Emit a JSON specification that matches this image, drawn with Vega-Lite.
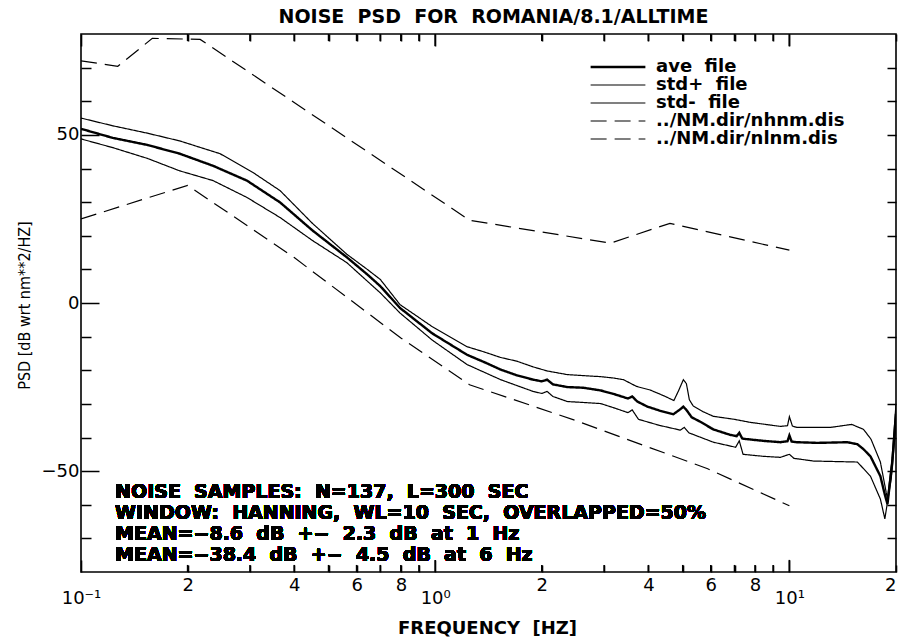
{
  "$schema": "https://vega.github.io/schema/vega-lite/v6.json",
  "autosize": "none",
  "width": 815,
  "height": 538,
  "padding": {"left": 81, "top": 34, "right": 2, "bottom": 66},
  "background": "white",
  "title": {"text": "NOISE\u00a0 PSD\u00a0 FOR\u00a0 ROMANIA/8.1/ALLTIME", "font": "DejaVu Sans", "fontSize": 19, "fontWeight": "bold", "color": "black", "offset": 6, "anchor": "middle", "dx": 5},
  "config": {
    "view": {"stroke": "black", "strokeWidth": 1.6},
    "font": "DejaVu Sans",
    "axis": {"domain": false, "grid": false, "labelColor": "black", "titleColor": "black", "labelFont": "DejaVu Sans", "titleFont": "DejaVu Sans"}
  },
  "data": {"values": [
    {"s": "ave file", "f": 0.1, "db": 51.8},
    {"s": "ave file", "f": 0.123, "db": 49.1},
    {"s": "ave file", "f": 0.154, "db": 47.0},
    {"s": "ave file", "f": 0.19, "db": 44.4},
    {"s": "ave file", "f": 0.236, "db": 40.8},
    {"s": "ave file", "f": 0.294, "db": 36.4},
    {"s": "ave file", "f": 0.365, "db": 29.9},
    {"s": "ave file", "f": 0.45, "db": 21.6},
    {"s": "ave file", "f": 0.563, "db": 13.6},
    {"s": "ave file", "f": 0.643, "db": 8.5},
    {"s": "ave file", "f": 0.7, "db": 5.0},
    {"s": "ave file", "f": 0.796, "db": -1.5},
    {"s": "ave file", "f": 0.98, "db": -9.0},
    {"s": "ave file", "f": 1.23, "db": -15.4},
    {"s": "ave file", "f": 1.37, "db": -17.5},
    {"s": "ave file", "f": 1.53, "db": -19.8},
    {"s": "ave file", "f": 1.7, "db": -21.5},
    {"s": "ave file", "f": 1.89, "db": -22.8},
    {"s": "ave file", "f": 2.0, "db": -23.3},
    {"s": "ave file", "f": 2.07, "db": -22.8},
    {"s": "ave file", "f": 2.15, "db": -24.2},
    {"s": "ave file", "f": 2.36, "db": -25.0},
    {"s": "ave file", "f": 2.62, "db": -25.2},
    {"s": "ave file", "f": 2.93, "db": -26.0},
    {"s": "ave file", "f": 3.18, "db": -27.0},
    {"s": "ave file", "f": 3.5, "db": -28.4},
    {"s": "ave file", "f": 3.6, "db": -27.8},
    {"s": "ave file", "f": 3.72, "db": -29.3},
    {"s": "ave file", "f": 3.97, "db": -30.8},
    {"s": "ave file", "f": 4.3, "db": -32.0},
    {"s": "ave file", "f": 4.7, "db": -33.1},
    {"s": "ave file", "f": 4.92, "db": -31.6},
    {"s": "ave file", "f": 5.02, "db": -30.8},
    {"s": "ave file", "f": 5.12, "db": -31.8},
    {"s": "ave file", "f": 5.3, "db": -34.0},
    {"s": "ave file", "f": 5.6, "db": -35.3},
    {"s": "ave file", "f": 6.1, "db": -37.6},
    {"s": "ave file", "f": 6.8, "db": -39.2},
    {"s": "ave file", "f": 7.1, "db": -39.6},
    {"s": "ave file", "f": 7.22, "db": -38.6},
    {"s": "ave file", "f": 7.36, "db": -40.3},
    {"s": "ave file", "f": 7.61, "db": -40.5},
    {"s": "ave file", "f": 8.45, "db": -41.0},
    {"s": "ave file", "f": 9.43, "db": -41.4},
    {"s": "ave file", "f": 9.88, "db": -41.1},
    {"s": "ave file", "f": 10.0, "db": -39.4},
    {"s": "ave file", "f": 10.15, "db": -41.2},
    {"s": "ave file", "f": 10.5, "db": -41.4},
    {"s": "ave file", "f": 12.0, "db": -41.6},
    {"s": "ave file", "f": 14.58, "db": -41.4},
    {"s": "ave file", "f": 15.56, "db": -42.0},
    {"s": "ave file", "f": 16.2, "db": -43.5},
    {"s": "ave file", "f": 16.94, "db": -45.6},
    {"s": "ave file", "f": 18.07, "db": -51.5},
    {"s": "ave file", "f": 18.6, "db": -57.0},
    {"s": "ave file", "f": 18.92, "db": -59.8},
    {"s": "ave file", "f": 19.5, "db": -48.0},
    {"s": "ave file", "f": 20.0, "db": -33.0},
    {"s": "std+ file", "f": 0.1, "db": 55.0},
    {"s": "std+ file", "f": 0.123, "db": 52.7},
    {"s": "std+ file", "f": 0.154, "db": 50.5},
    {"s": "std+ file", "f": 0.19, "db": 48.2},
    {"s": "std+ file", "f": 0.247, "db": 44.4},
    {"s": "std+ file", "f": 0.306, "db": 38.8},
    {"s": "std+ file", "f": 0.365, "db": 33.4},
    {"s": "std+ file", "f": 0.45, "db": 23.7},
    {"s": "std+ file", "f": 0.563, "db": 14.5},
    {"s": "std+ file", "f": 0.643, "db": 10.0},
    {"s": "std+ file", "f": 0.7, "db": 7.0},
    {"s": "std+ file", "f": 0.796, "db": -0.5},
    {"s": "std+ file", "f": 0.98, "db": -7.0},
    {"s": "std+ file", "f": 1.23, "db": -13.0},
    {"s": "std+ file", "f": 1.37, "db": -14.5},
    {"s": "std+ file", "f": 1.53, "db": -16.2},
    {"s": "std+ file", "f": 1.7, "db": -17.3},
    {"s": "std+ file", "f": 1.89, "db": -19.0},
    {"s": "std+ file", "f": 2.07, "db": -20.2},
    {"s": "std+ file", "f": 2.36, "db": -21.3},
    {"s": "std+ file", "f": 2.62, "db": -21.6},
    {"s": "std+ file", "f": 2.93, "db": -21.9},
    {"s": "std+ file", "f": 3.18, "db": -22.3},
    {"s": "std+ file", "f": 3.4, "db": -22.8},
    {"s": "std+ file", "f": 3.7, "db": -24.8},
    {"s": "std+ file", "f": 4.05, "db": -25.9},
    {"s": "std+ file", "f": 4.4, "db": -27.5},
    {"s": "std+ file", "f": 4.72, "db": -29.0},
    {"s": "std+ file", "f": 4.87, "db": -26.0},
    {"s": "std+ file", "f": 5.02, "db": -22.8},
    {"s": "std+ file", "f": 5.12, "db": -24.0},
    {"s": "std+ file", "f": 5.22, "db": -28.8},
    {"s": "std+ file", "f": 5.35, "db": -30.6},
    {"s": "std+ file", "f": 5.7, "db": -32.3},
    {"s": "std+ file", "f": 6.1, "db": -33.7},
    {"s": "std+ file", "f": 7.0, "db": -34.6},
    {"s": "std+ file", "f": 7.76, "db": -35.5},
    {"s": "std+ file", "f": 9.43, "db": -36.7},
    {"s": "std+ file", "f": 9.88, "db": -36.5},
    {"s": "std+ file", "f": 10.0, "db": -33.8},
    {"s": "std+ file", "f": 10.2, "db": -36.6},
    {"s": "std+ file", "f": 10.5, "db": -37.0},
    {"s": "std+ file", "f": 13.06, "db": -37.0},
    {"s": "std+ file", "f": 15.0, "db": -36.1},
    {"s": "std+ file", "f": 16.2, "db": -37.6},
    {"s": "std+ file", "f": 17.0, "db": -40.5},
    {"s": "std+ file", "f": 18.07, "db": -47.3},
    {"s": "std+ file", "f": 18.92, "db": -58.3},
    {"s": "std+ file", "f": 19.5, "db": -46.0},
    {"s": "std+ file", "f": 20.0, "db": -30.0},
    {"s": "std- file", "f": 0.1, "db": 48.8},
    {"s": "std- file", "f": 0.123, "db": 46.2},
    {"s": "std- file", "f": 0.154, "db": 43.0},
    {"s": "std- file", "f": 0.19, "db": 39.3},
    {"s": "std- file", "f": 0.236, "db": 36.4},
    {"s": "std- file", "f": 0.294, "db": 31.4},
    {"s": "std- file", "f": 0.365, "db": 25.4},
    {"s": "std- file", "f": 0.45, "db": 18.6},
    {"s": "std- file", "f": 0.563, "db": 12.0},
    {"s": "std- file", "f": 0.7, "db": 3.0},
    {"s": "std- file", "f": 0.796, "db": -3.0},
    {"s": "std- file", "f": 0.98, "db": -11.0},
    {"s": "std- file", "f": 1.23, "db": -18.3},
    {"s": "std- file", "f": 1.53, "db": -22.8},
    {"s": "std- file", "f": 1.89, "db": -26.3},
    {"s": "std- file", "f": 2.0, "db": -26.9},
    {"s": "std- file", "f": 2.07, "db": -26.3},
    {"s": "std- file", "f": 2.15, "db": -27.8},
    {"s": "std- file", "f": 2.36, "db": -29.3},
    {"s": "std- file", "f": 2.93, "db": -29.9},
    {"s": "std- file", "f": 3.18, "db": -31.1},
    {"s": "std- file", "f": 3.5, "db": -32.6},
    {"s": "std- file", "f": 3.6, "db": -31.8},
    {"s": "std- file", "f": 3.75, "db": -34.6},
    {"s": "std- file", "f": 4.3, "db": -36.4},
    {"s": "std- file", "f": 4.92, "db": -37.8},
    {"s": "std- file", "f": 5.05, "db": -37.0},
    {"s": "std- file", "f": 5.2, "db": -38.6},
    {"s": "std- file", "f": 6.1, "db": -41.4},
    {"s": "std- file", "f": 7.05, "db": -42.9},
    {"s": "std- file", "f": 7.22, "db": -41.0},
    {"s": "std- file", "f": 7.4, "db": -45.0},
    {"s": "std- file", "f": 8.45, "db": -45.6},
    {"s": "std- file", "f": 9.43, "db": -45.9},
    {"s": "std- file", "f": 10.0, "db": -45.0},
    {"s": "std- file", "f": 10.3, "db": -46.2},
    {"s": "std- file", "f": 11.7, "db": -47.0},
    {"s": "std- file", "f": 15.56, "db": -47.3},
    {"s": "std- file", "f": 16.94, "db": -51.5},
    {"s": "std- file", "f": 18.07, "db": -58.3},
    {"s": "std- file", "f": 18.6, "db": -64.2},
    {"s": "std- file", "f": 19.4, "db": -52.0},
    {"s": "std- file", "f": 20.0, "db": -36.0},
    {"s": "../NM.dir/nhnm.dis", "f": 0.1, "db": 72.0},
    {"s": "../NM.dir/nhnm.dis", "f": 0.127, "db": 70.4},
    {"s": "../NM.dir/nhnm.dis", "f": 0.159, "db": 78.7},
    {"s": "../NM.dir/nhnm.dis", "f": 0.217, "db": 78.4},
    {"s": "../NM.dir/nhnm.dis", "f": 1.25, "db": 24.6},
    {"s": "../NM.dir/nhnm.dis", "f": 3.125, "db": 17.8},
    {"s": "../NM.dir/nhnm.dis", "f": 4.6, "db": 23.7},
    {"s": "../NM.dir/nhnm.dis", "f": 10.0, "db": 15.7},
    {"s": "../NM.dir/nlnm.dis", "f": 0.1, "db": 25.0},
    {"s": "../NM.dir/nlnm.dis", "f": 0.2, "db": 35.0},
    {"s": "../NM.dir/nlnm.dis", "f": 0.4, "db": 13.5},
    {"s": "../NM.dir/nlnm.dis", "f": 0.8, "db": -10.4},
    {"s": "../NM.dir/nlnm.dis", "f": 1.25, "db": -24.3},
    {"s": "../NM.dir/nlnm.dis", "f": 2.5, "db": -35.0},
    {"s": "../NM.dir/nlnm.dis", "f": 5.88, "db": -49.3},
    {"s": "../NM.dir/nlnm.dis", "f": 10.0, "db": -60.3}
  ]},
  "layer": [
    {
      "mark": {"type": "line", "clip": true, "color": "black"},
      "encoding": {
        "x": {"field": "f", "type": "quantitative", "scale": {"type": "log", "domain": [0.1, 20], "nice": false},
          "axis": {"orient": "bottom", "values": [0.1,0.2,0.3,0.4,0.5,0.6,0.7,0.8,0.9,1,2,3,4,5,6,7,8,9,10,20],
            "labelExpr": "datum.value==0.1?'10⁻¹':datum.value==1?'10⁰':datum.value==10?'10¹':(datum.value==0.2||datum.value==2||datum.value==20)?'2':(datum.value==0.4||datum.value==4)?'4':(datum.value==0.6||datum.value==6)?'6':(datum.value==0.8||datum.value==8)?'8':''",
            "ticks": true, "tickColor": "black", "tickWidth": 1.6,
            "tickSize": {"condition": {"test": "datum.value==0.1||datum.value==1||datum.value==10", "value": -12}, "value": -7},
            "labelPadding": {"condition": {"test": "datum.value==0.1||datum.value==1||datum.value==10", "value": 29}, "value": 11},
            "labelAlign": {"condition": {"test": "datum.value==20", "value": "right"}, "value": "center"},
            "labelFontSize": 18, "labelOverlap": false, "labelFlush": false,
            "title": "FREQUENCY\u00a0 [HZ]", "titleFontSize": 18, "titleFontWeight": "bold", "titleX": 406, "titleY": 56, "titleBaseline": "middle", "titleAnchor": "middle", "titleAlign": "center"}},
        "y": {"field": "db", "type": "quantitative", "scale": {"domain": [-80, 80], "nice": false, "zero": false},
          "axis": {"orient": "left", "values": [-70,-60,-50,-40,-30,-20,-10,0,10,20,30,40,50,60,70],
            "labelExpr": "(datum.value==50||datum.value==0||datum.value==-50)?datum.label:''",
            "tickColor": "black", "tickWidth": 1.5,
            "tickSize": {"condition": {"test": "datum.value==50||datum.value==0||datum.value==-50", "value": -18}, "value": -10},
            "labelPadding": {"condition": {"test": "datum.value==50||datum.value==0||datum.value==-50", "value": 20}, "value": 12},
            "labelFontSize": 18, "labelOverlap": false, "labelFlush": false,
            "title": "PSD [dB wrt nm**2/HZ]", "titleFont": "DejaVu Sans Condensed, Liberation Sans Narrow, sans-serif", "titleFontSize": 16, "titleFontWeight": "normal", "titleX": -57, "titleY": 271, "titleAngle": -90, "titleBaseline": "middle", "titleAlign": "center"}},
        "strokeDash": {"field": "s", "type": "nominal",
          "scale": {"domain": ["ave file", "std+ file", "std- file", "../NM.dir/nhnm.dis", "../NM.dir/nlnm.dis"], "range": [[1,0],[1,0],[1,0],[16,8],[16,8]]},
          "legend": {"orient": "none", "legendX": 528, "legendY": 24, "title": null, "symbolType": "stroke", "symbolSize": 3000, "symbolStrokeColor": "black", "labelFontSize": 18, "labelFontWeight": "bold", "labelFont": "DejaVu Sans", "labelColor": "black", "labelOffset": 29, "rowPadding": 0, "labelLimit": 0,
            "labelExpr": "replace(datum.label, ' ', '\u00a0 ')",
            "encode": {"symbols": {"update": {"strokeWidth": {"signal": "datum.value === 'ave file' ? 2.6 : 1.2"}}}}}},
        "strokeWidth": {"condition": {"test": "datum.s === 'ave file'", "value": 2.4}, "value": 1.2}
      }
    },
    {
      "mark": {"type": "point", "opacity": 0},
      "encoding": {
        "x": {"field": "f", "type": "quantitative",
          "axis": {"orient": "top", "values": [0.1,0.2,0.3,0.4,0.5,0.6,0.7,0.8,0.9,1,2,3,4,5,6,7,8,9,10,20], "labels": false, "title": null, "ticks": true, "tickColor": "black", "tickWidth": 1.6,
            "tickSize": {"condition": {"test": "datum.value==0.1||datum.value==1||datum.value==10", "value": -12}, "value": -7}}},
        "y": {"field": "db", "type": "quantitative",
          "axis": {"orient": "right", "values": [-70,-60,-50,-40,-30,-20,-10,0,10,20,30,40,50,60,70], "labels": false, "title": null, "tickColor": "black", "tickWidth": 1.5, "tickSize": -9}}
      }
    },
    {
      "data": {"values": [{"t": 0.2}, {"t": 0.3}, {"t": 0.4}, {"t": 0.5}, {"t": 0.6}, {"t": 0.7}, {"t": 0.8}, {"t": 0.9}, {"t": 2}, {"t": 3}, {"t": 4}, {"t": 5}, {"t": 6}, {"t": 7}, {"t": 8}, {"t": 9}]},
      "layer": [
        {
          "mark": {"type": "rule", "color": "black", "strokeWidth": 1.6},
          "encoding": {
            "x": {"field": "t", "type": "quantitative", "axis": null},
            "y": {"datum": -80, "type": "quantitative", "axis": null},
            "y2": {"datum": -77.9}
          }
        },
        {
          "mark": {"type": "rule", "color": "black", "strokeWidth": 1.6},
          "encoding": {
            "x": {"field": "t", "type": "quantitative", "axis": null},
            "y": {"datum": 80, "type": "quantitative", "axis": null},
            "y2": {"datum": 77.9}
          }
        }
      ]
    },
    {
      "data": {"values": [{"t": 1}, {"t": 10}]},
      "layer": [
        {
          "mark": {"type": "rule", "color": "black", "strokeWidth": 1.6},
          "encoding": {
            "x": {"field": "t", "type": "quantitative", "axis": null},
            "y": {"datum": -80, "type": "quantitative", "axis": null},
            "y2": {"datum": -76.4}
          }
        },
        {
          "mark": {"type": "rule", "color": "black", "strokeWidth": 1.6},
          "encoding": {
            "x": {"field": "t", "type": "quantitative", "axis": null},
            "y": {"datum": 80, "type": "quantitative", "axis": null},
            "y2": {"datum": 76.4}
          }
        }
      ]
    },
    {
      "mark": {"type": "text", "align": "left", "baseline": "alphabetic", "font": "DejaVu Sans", "fontSize": 19, "fontWeight": "bold", "lineHeight": 21, "color": "black"},
      "encoding": {
        "x": {"datum": 0.1248, "type": "quantitative", "axis": null},
        "y": {"datum": -58, "type": "quantitative", "axis": null},
        "text": {"value": ["NOISE\u00a0 SAMPLES:\u00a0 N=137,\u00a0 L=300\u00a0 SEC", "WINDOW:\u00a0 HANNING,\u00a0 WL=10\u00a0 SEC,\u00a0 OVERLAPPED=50%", "MEAN=\u22128.6\u00a0 dB\u00a0 +\u2212\u00a0 2.3\u00a0 dB\u00a0 at\u00a0 1\u00a0 Hz", "MEAN=\u221238.4\u00a0 dB\u00a0 +\u2212\u00a0 4.5\u00a0 dB\u00a0 at\u00a0 6\u00a0 Hz"]}
      }
    }
  ],
  "resolve": {"axis": {"x": "independent", "y": "independent"}}
}
